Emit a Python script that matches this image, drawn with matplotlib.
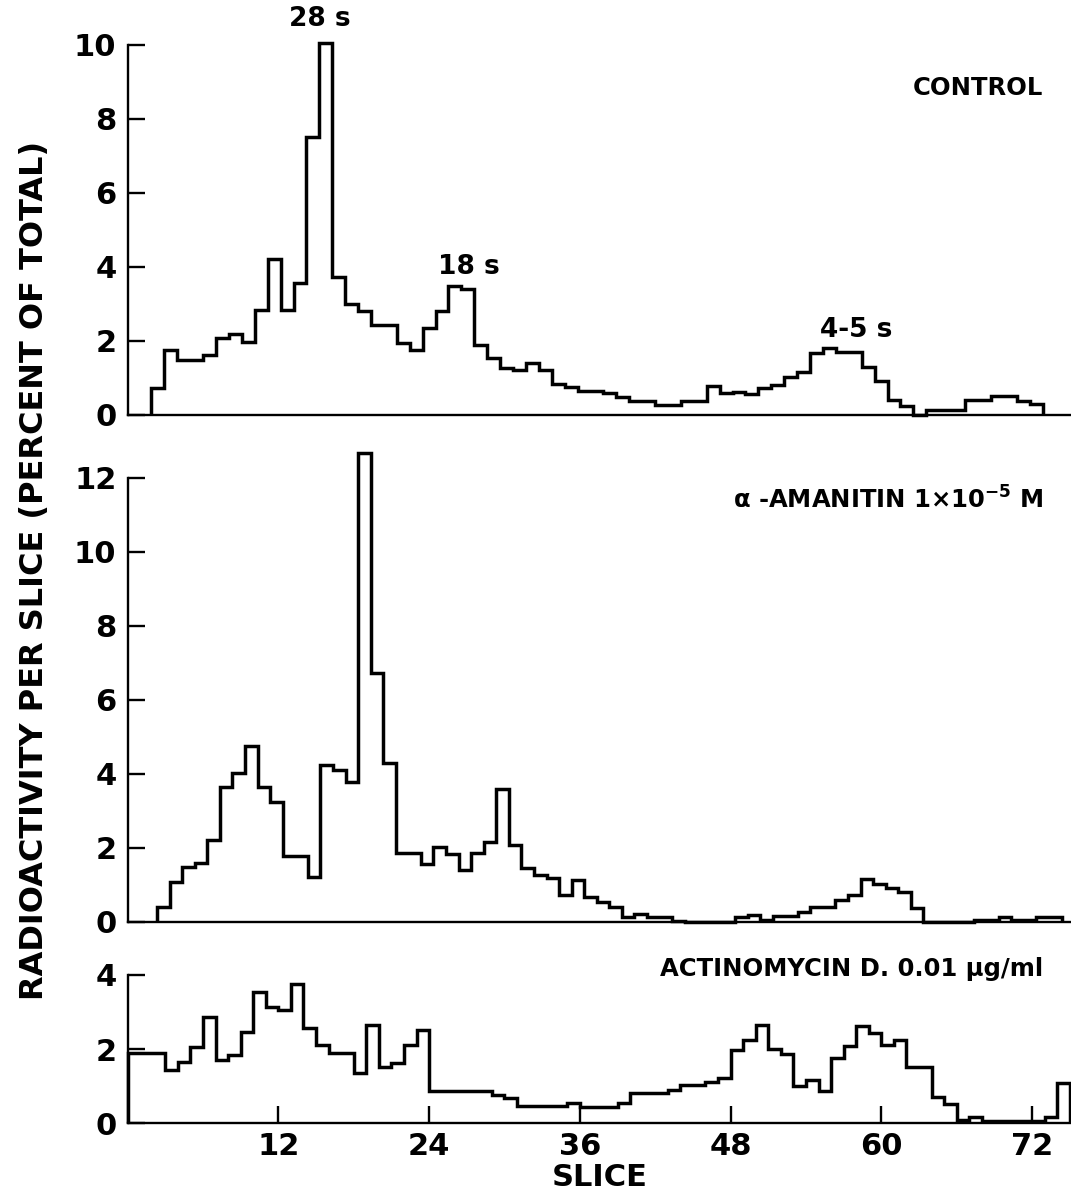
import matplotlib
matplotlib.use("Agg")
import matplotlib.pyplot as plt
import numpy as np

# slice profiles, one value per gel slice (percent of total)
control_start = 1.9
control_width = 1.028
control = [
    0.72, 1.76, 1.50, 1.50, 1.62, 2.09, 2.18, 1.98, 2.84, 4.21,
    2.84, 3.58, 7.52, 10.06, 3.72, 3.00, 2.82, 2.43, 2.43, 1.94,
    1.76, 2.34, 2.82, 3.49, 3.40, 1.89, 1.53, 1.28, 1.22, 1.40,
    1.22, 0.84, 0.77, 0.66, 0.66, 0.59, 0.50, 0.39, 0.39, 0.27,
    0.27, 0.39, 0.39, 0.79, 0.59, 0.63, 0.57, 0.72, 0.81, 1.04,
    1.17, 1.68, 1.80, 1.69, 1.69, 1.31, 0.93, 0.41, 0.24, 0.00,
    0.14, 0.14, 0.14, 0.41, 0.41, 0.52, 0.52, 0.39, 0.30,
]

amanitin_start = 2.35
amanitin_width = 1.0
amanitin = [
    0.41, 1.08, 1.49, 1.60, 2.21, 3.65, 4.03, 4.75, 3.65, 3.24,
    1.78, 1.78, 1.22, 4.24, 4.10, 3.78, 12.66, 6.71, 4.28, 1.85,
    1.85, 1.56, 2.01, 1.83, 1.40, 1.85, 2.16, 3.58, 2.07, 1.44,
    1.26, 1.17, 0.72, 1.13, 0.68, 0.54, 0.41, 0.14, 0.21, 0.12,
    0.12, 0.03, 0.00, 0.00, 0.00, 0.00, 0.12, 0.18, 0.05, 0.16,
    0.16, 0.25, 0.41, 0.41, 0.59, 0.72, 1.15, 1.02, 0.90, 0.79,
    0.36, 0.00, 0.00, 0.00, 0.00, 0.05, 0.05, 0.14, 0.05, 0.05,
    0.12, 0.12,
]

actino_start = 0.0
actino_width = 1.0
actinomycin = [
    1.90, 1.90, 1.90, 1.44, 1.66, 2.06, 2.87, 1.70, 1.84, 2.47,
    3.55, 3.14, 3.05, 3.77, 2.56, 2.11, 1.90, 1.90, 1.36, 2.65,
    1.51, 1.62, 2.11, 2.53, 0.88, 0.88, 0.88, 0.88, 0.88, 0.76,
    0.67, 0.47, 0.47, 0.47, 0.47, 0.56, 0.45, 0.45, 0.45, 0.54,
    0.81, 0.81, 0.81, 0.90, 1.03, 1.03, 1.12, 1.21, 1.98, 2.26,
    2.65, 2.00, 1.87, 1.00, 1.17, 0.88, 1.75, 2.08, 2.62, 2.43,
    2.10, 2.25, 1.53, 1.53, 0.72, 0.52, 0.10, 0.17, 0.05, 0.05,
    0.05, 0.05, 0.05, 0.17, 1.08,
]

slice_ticks = [12, 24, 36, 48, 60, 72]
X_MAX = 75.1

plt.rcParams["font.family"] = ["DejaVu Sans"]
plt.rcParams["font.weight"] = "bold"

fig = plt.figure(figsize=(10.71, 12.03), dpi=100)
W, H = 1071, 1203


def panel_axes(y_zero_px, y_top_px):
    left = 127.6 / W
    return fig.add_axes([left, 1 - y_zero_px / H, 1 - left, (y_zero_px - y_top_px) / H])


def style(ax, ymax, yticks):
    ax.set_xlim(0, X_MAX)
    ax.set_ylim(0, ymax)
    for side in ("top", "right"):
        ax.spines[side].set_visible(False)
    for side in ("left", "bottom"):
        ax.spines[side].set_linewidth(1.7)
    ax.set_yticks(yticks)
    ax.tick_params(axis="y", direction="in", length=12, width=1.7, labelsize=22, pad=8)
    ax.tick_params(axis="x", direction="in", length=12, width=1.7, labelsize=22, pad=6)


def draw(ax, values, start, width):
    edges = start + width * np.arange(len(values) + 1)
    ax.stairs(values, edges, color="black", linewidth=2.5, baseline=0, clip_on=False)


ax1 = panel_axes(415, 45)
draw(ax1, control, control_start, control_width)
style(ax1, 10, [0, 2, 4, 6, 8, 10])
ax1.set_xticks([])
ax1.text(15.3, 10.7, "28 s", fontsize=19, ha="center", va="center")
ax1.text(27.2, 4.0, "18 s", fontsize=19, ha="center", va="center")
ax1.text(58.0, 2.3, "4-5 s", fontsize=19, ha="center", va="center")
ax1.text(72.9, 8.84, "CONTROL", fontsize=17.5, ha="right", va="center")

ax2 = panel_axes(921.7, 477.7)
draw(ax2, amanitin, amanitin_start, amanitin_width)
style(ax2, 12, [0, 2, 4, 6, 8, 10, 12])
ax2.set_xticks([])
ax2.text(72.9, 11.4, r"$\mathbf{\alpha}$ -AMANITIN 1×10$^{\mathbf{-5}}$ M", fontsize=17.5,
         ha="right", va="center")

ax3 = panel_axes(1123.3, 975)
draw(ax3, actinomycin, actino_start, actino_width)
style(ax3, 4, [0, 2, 4])
ax3.set_xticks(slice_ticks)
ax3.set_xlabel("SLICE", fontsize=22, fontweight="bold", labelpad=2)
ax3.text(72.9, 4.15, "ACTINOMYCIN D. 0.01 µg/ml", fontsize=17.5, ha="right", va="center")

fig.text(0.032, 0.526, "RADIOACTIVITY PER SLICE (PERCENT OF TOTAL)",
         rotation=90, fontsize=23, ha="center", va="center")

fig.savefig("out.png", dpi=100)
